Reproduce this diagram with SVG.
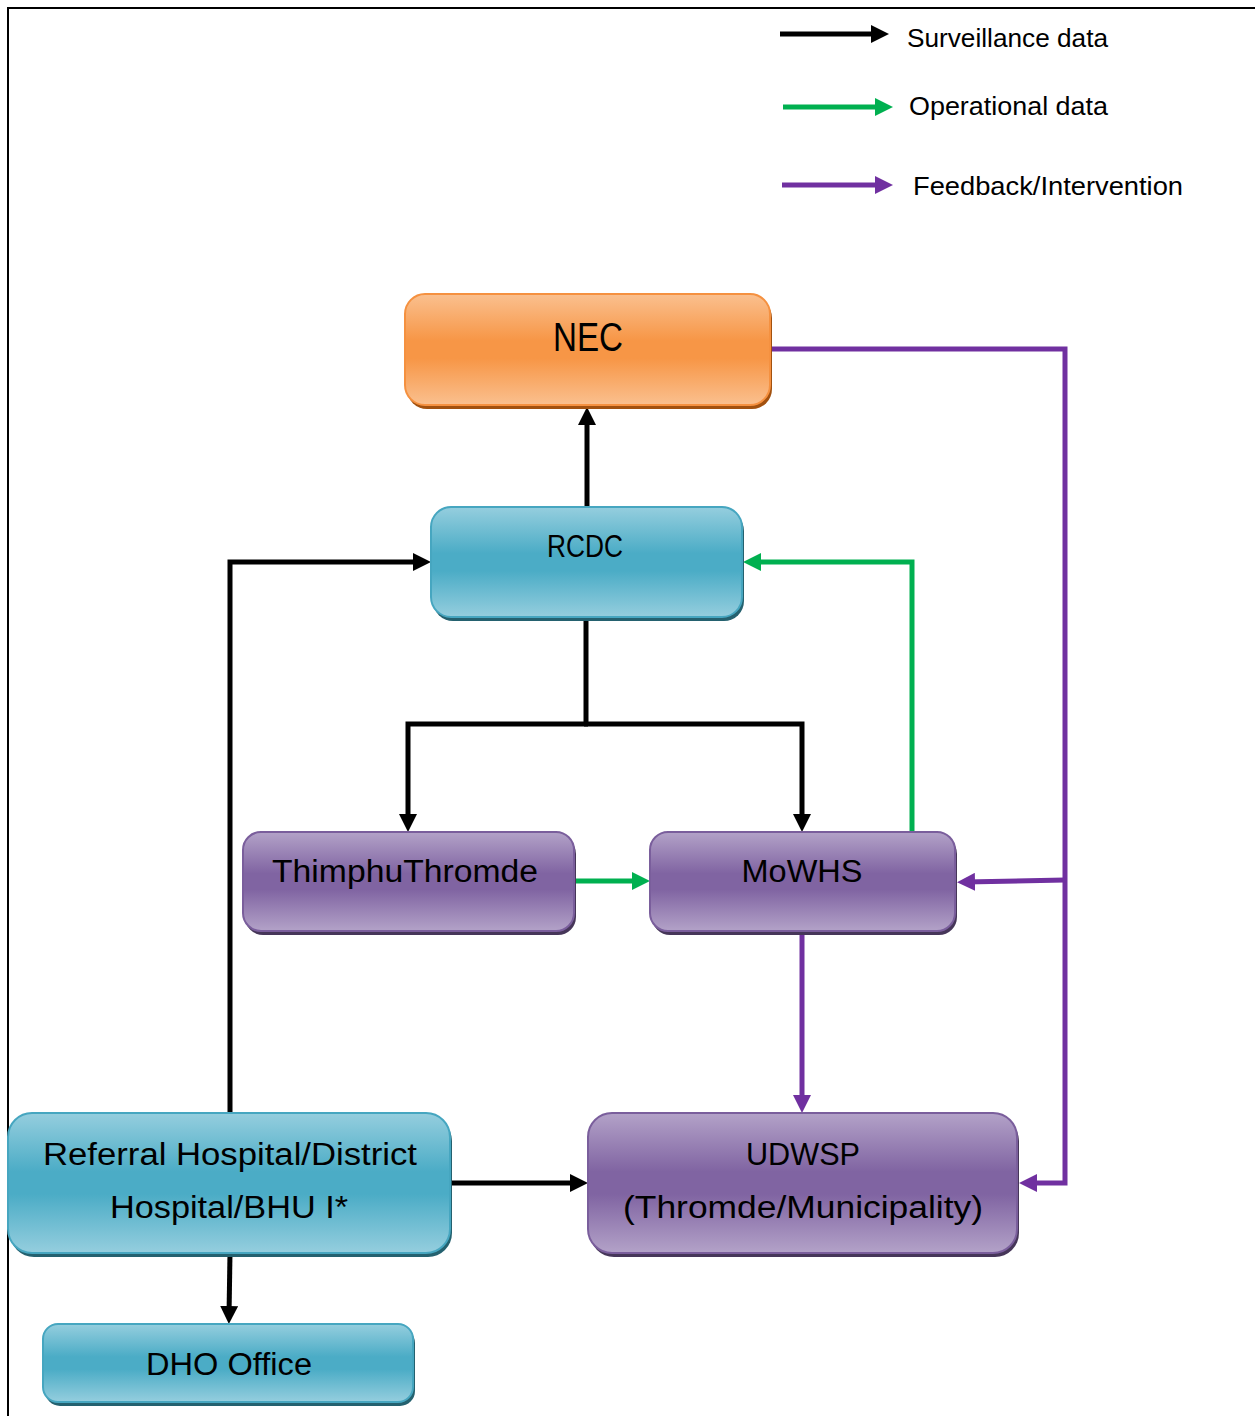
<svg xmlns="http://www.w3.org/2000/svg" width="1255" height="1416" viewBox="0 0 1255 1416">
<defs>
<linearGradient id="gBlue" x1="0" y1="0" x2="0" y2="1">
<stop offset="0" stop-color="#95CEDE"/><stop offset="0.42" stop-color="#4BACC6"/><stop offset="0.58" stop-color="#4BACC6"/><stop offset="1" stop-color="#95CEDE"/>
</linearGradient>
<linearGradient id="gPurple" x1="0" y1="0" x2="0" y2="1">
<stop offset="0" stop-color="#B3A2C8"/><stop offset="0.42" stop-color="#8064A2"/><stop offset="0.58" stop-color="#8064A2"/><stop offset="1" stop-color="#B3A2C8"/>
</linearGradient>
<linearGradient id="gOrange" x1="0" y1="0" x2="0" y2="1">
<stop offset="0" stop-color="#FAC08F"/><stop offset="0.42" stop-color="#F79646"/><stop offset="0.58" stop-color="#F79646"/><stop offset="1" stop-color="#FAC08F"/>
</linearGradient>
<marker id="aK" markerUnits="userSpaceOnUse" markerWidth="18" markerHeight="18" refX="10" refY="9" orient="auto"><path d="M0,0 L18,9 L0,18 Z" fill="#000000"/></marker>
<marker id="aG" markerUnits="userSpaceOnUse" markerWidth="18" markerHeight="18" refX="10" refY="9" orient="auto"><path d="M0,0 L18,9 L0,18 Z" fill="#00B050"/></marker>
<marker id="aP" markerUnits="userSpaceOnUse" markerWidth="18" markerHeight="18" refX="10" refY="9" orient="auto"><path d="M0,0 L18,9 L0,18 Z" fill="#7030A0"/></marker>
</defs>
<style>
text{font-family:"Liberation Sans",Arial,sans-serif;fill:#000000}
.t{font-size:31px;text-anchor:middle}
.lg{font-size:26px}
.blue{fill:url(#gBlue);stroke:#46A6C0;stroke-width:2}
.purple{fill:url(#gPurple);stroke:#7A5E9C;stroke-width:2}
.orange{fill:url(#gOrange);stroke:#F59140;stroke-width:2}
.shB{fill:#24616F}
.shP{fill:#463659}
.shO{fill:#A2510F}
.k{fill:none;stroke:#000000;stroke-width:5}
.g{fill:none;stroke:#00B050;stroke-width:5}
.p{fill:none;stroke:#7030A0;stroke-width:5}
</style>
<rect width="1255" height="1416" fill="#FFFFFF"/>
<path d="M8,1416 V8 H1255" fill="none" stroke="#000000" stroke-width="2"/>

<g id="legend">
<line class="k" x1="780" y1="34" x2="881" y2="34" marker-end="url(#aK)"/>
<text class="lg" x="907" y="47" textLength="201" lengthAdjust="spacingAndGlyphs">Surveillance data</text>
<line class="g" x1="783" y1="107" x2="885" y2="107" marker-end="url(#aG)"/>
<text class="lg" x="909" y="115" textLength="199" lengthAdjust="spacingAndGlyphs">Operational data</text>
<line class="p" x1="782" y1="185" x2="885" y2="185" marker-end="url(#aP)"/>
<text class="lg" x="913" y="195" textLength="270" lengthAdjust="spacingAndGlyphs">Feedback/Intervention</text>
</g>

<g id="connectors">
<path class="k" d="M587,507 V415" marker-end="url(#aK)"/>
<path class="k" d="M230,1113 V562 H423" marker-end="url(#aK)"/>
<path class="k" d="M586,617 V724"/>
<path class="k" d="M588,724 H408 V824" marker-end="url(#aK)"/>
<path class="k" d="M584,724 H802 V824" marker-end="url(#aK)"/>
<path class="g" d="M574,881 H642" marker-end="url(#aG)"/>
<path class="g" d="M912,832 V562 H751" marker-end="url(#aG)"/>
<path class="p" d="M770,349 H1065 V1183 H1027" marker-end="url(#aP)"/>
<path class="p" d="M1065,880 L965,882" marker-end="url(#aP)"/>
<path class="p" d="M802,931 V1105" marker-end="url(#aP)"/>
<path class="k" d="M451,1183 H580" marker-end="url(#aK)"/>
<path class="k" d="M230,1253 L229,1316" marker-end="url(#aK)"/>
</g>

<g id="nec">
<rect class="shO" x="407" y="298" width="365" height="111" rx="20"/>
<rect class="orange" x="405" y="294" width="365" height="111" rx="20"/>
<text class="t" style="font-size:40px" x="588" y="351" textLength="70" lengthAdjust="spacingAndGlyphs">NEC</text>
</g>

<g id="rcdc">
<rect class="shB" x="433" y="511" width="311" height="110" rx="20"/>
<rect class="blue" x="431" y="507" width="311" height="110" rx="20"/>
<text class="t" style="font-size:32px" x="585" y="557" textLength="76" lengthAdjust="spacingAndGlyphs">RCDC</text>
</g>

<g id="thimphu">
<rect class="shP" x="245" y="836" width="331" height="99" rx="18"/>
<rect class="purple" x="243" y="832" width="331" height="99" rx="18"/>
<text class="t" x="405" y="882" textLength="266" lengthAdjust="spacingAndGlyphs">ThimphuThromde</text>
</g>

<g id="mowhs">
<rect class="shP" x="652" y="836" width="305" height="99" rx="18"/>
<rect class="purple" x="650" y="832" width="305" height="99" rx="18"/>
<text class="t" x="802" y="882" textLength="121" lengthAdjust="spacingAndGlyphs">MoWHS</text>
</g>

<g id="udwsp">
<rect class="shP" x="590" y="1117" width="429" height="140" rx="24"/>
<rect class="purple" x="588" y="1113" width="429" height="140" rx="24"/>
<text class="t" x="803" y="1165" textLength="114" lengthAdjust="spacingAndGlyphs">UDWSP</text>
<text class="t" x="803" y="1218" textLength="360" lengthAdjust="spacingAndGlyphs">(Thromde/Municipality)</text>
</g>

<g id="referral">
<rect class="shB" x="10" y="1117" width="442" height="140" rx="24"/>
<rect class="blue" x="8" y="1113" width="442" height="140" rx="24"/>
<text class="t" x="230" y="1165" textLength="374" lengthAdjust="spacingAndGlyphs">Referral Hospital/District</text>
<text class="t" x="229" y="1218" textLength="238" lengthAdjust="spacingAndGlyphs">Hospital/BHU I*</text>
</g>

<g id="dho">
<rect class="shB" x="45" y="1328" width="370" height="78" rx="15"/>
<rect class="blue" x="43" y="1324" width="370" height="78" rx="15"/>
<text class="t" x="229" y="1375" textLength="166" lengthAdjust="spacingAndGlyphs">DHO Office</text>
</g>
</svg>
